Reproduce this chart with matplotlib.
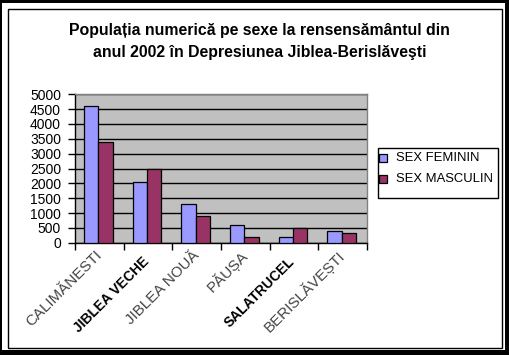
import matplotlib
matplotlib.use("Agg")
import matplotlib.pyplot as plt
from matplotlib.patches import Rectangle
import numpy as np

plt.rcParams['font.family'] = ['Liberation Sans', 'DejaVu Sans']

categories = ["CALIMĂNESTI", "JIBLEA VECHE", "JIBLEA NOUĂ", "PĂUȘA", "SALATRUCEL", "BERISLĂVEȘTI"]
feminin = [4600, 2030, 1320, 600, 200, 400]
masculin = [3400, 2500, 910, 200, 500, 340]
yticks = list(range(0, 5001, 500))
series_names = ["SEX FEMININ", "SEX MASCULIN"]
series_colors = ['#9999FF', '#993366']
title = "Populația numerică pe sexe la rensensământul din\nanul 2002 în Depresiunea Jiblea-Berislăveşti"

W, H = 510, 355
fig = plt.figure(figsize=(W / 100, H / 100), dpi=100)
fig.patch.set_facecolor('white')

def px_rect(x0, y0, x1, y1, **kw):
    return Rectangle((x0 / W, 1 - y1 / H), (x1 - x0) / W, (y1 - y0) / H,
                     transform=fig.transFigure, **kw)

# outer black border (thicker right/bottom shadow)
fig.patches.append(px_rect(0, 0, W, 2.5, facecolor='black', edgecolor='none'))
fig.patches.append(px_rect(0, 0, 2.5, H, facecolor='black', edgecolor='none'))
fig.patches.append(px_rect(W - 5, 0, W, H, facecolor='black', edgecolor='none'))
fig.patches.append(px_rect(0, H - 5, W, H, facecolor='black', edgecolor='none'))
# inner thin frame
fig.patches.append(px_rect(8.5, 8.5, 502.5, 347.5, facecolor='none', edgecolor='black', linewidth=1))

ax = fig.add_axes([75 / W, 1 - 242.7 / H, (367 - 75) / W, (242.7 - 94.3) / H])
ax.set_facecolor('#C0C0C0')

x = np.arange(len(categories))
bw = 0.295
ax.bar(x - bw / 2 - 0.02, feminin, width=bw, color=series_colors[0], edgecolor='black', linewidth=0.9,
       label=series_names[0], zorder=3)
ax.bar(x + bw / 2 - 0.02, masculin, width=bw, color=series_colors[1], edgecolor='black', linewidth=0.9,
       label=series_names[1], zorder=3)

ax.set_xlim(-0.5, len(categories) - 0.5)
ax.set_ylim(0, 5000)
ax.set_yticks(yticks)
ax.set_yticklabels([str(v) for v in yticks], fontsize=10)
ax.yaxis.grid(True, color='black', linewidth=1, zorder=1)
ax.set_axisbelow(True)

ax.set_xticks(np.arange(len(categories) + 1) - 0.5)
ax.set_xticklabels([])
ax.tick_params(axis='x', direction='out', length=5, width=1, color='black')
ax.tick_params(axis='y', direction='out', length=5, width=1, color='black', pad=5)

for s in ['top', 'right']:
    ax.spines[s].set_color('#808080')
    ax.spines[s].set_linewidth(1)
for s in ['left', 'bottom']:
    ax.spines[s].set_color('black')
    ax.spines[s].set_linewidth(1)

big = {"JIBLEA VECHE", "SALATRUCEL"}
for i, c in enumerate(categories):
    if c in big:
        fs, w, col, dx, dy = 10.0, 'bold', 'black', -1, -12
    else:
        fs, w, col, dx, dy = 10.9, 'normal', '#444444', 0, -7.5
    ax.annotate(c, xy=(i, 0), xycoords=('data', 'axes fraction'),
                xytext=(dx, dy), textcoords='offset points',
                rotation=45, rotation_mode='anchor', ha='right', va='center',
                fontsize=fs, color=col, fontweight=w)

fig.text(259.5 / W, 1 - 41.5 / H, title, ha='center', va='center', fontsize=11.4,
         fontweight='bold', linespacing=1.65)

# legend (drawn in pixel coordinates)
fig.patches.append(px_rect(377.5, 147.5, 497.5, 197.5, facecolor='white', edgecolor='black', linewidth=1))
row_y = [158, 179]
for name, col, ry in zip(series_names, series_colors, row_y):
    fig.patches.append(px_rect(379.5, ry - 4, 387.5, ry + 4, facecolor=col, edgecolor='black', linewidth=0.9))
    fig.text(396 / W, 1 - ry / H, name, ha='left', va='center', fontsize=9.4)

fig.savefig('out.png', dpi=100, facecolor='white')
